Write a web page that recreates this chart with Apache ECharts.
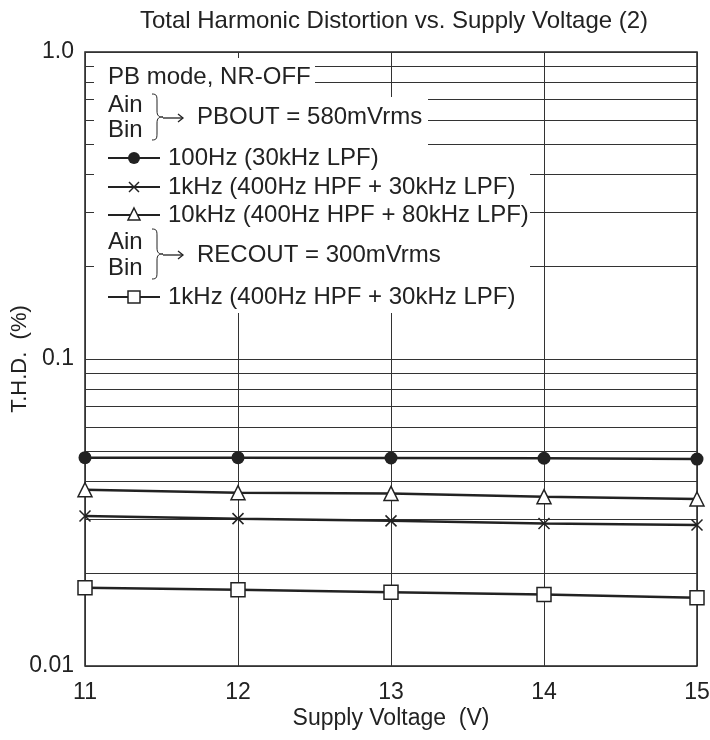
<!DOCTYPE html>
<html>
<head>
<meta charset="utf-8">
<script src="https://cdn.jsdelivr.net/npm/echarts@6/dist/echarts.min.js"></script>
<style>
  html, body { margin: 0; padding: 0; background: #fff; }
  #main { width: 710px; height: 740px; }
</style>
</head>
<body>
<div id="main"></div>
<script>
// 电源电压 (V)
var voltage = [11, 12, 13, 14, 15];
// T.H.D. (%) 读图估计
var thd100Hz = [0.0477, 0.0477, 0.0476, 0.0475, 0.0472];
var thd1kHzPb = [0.0308, 0.0302, 0.0297, 0.0291, 0.0288];
var thd10kHzPb = [0.0375, 0.0367, 0.0365, 0.0356, 0.0350];
var thd1kHzRec = [0.0180, 0.0177, 0.0174, 0.0171, 0.0167];
// 对数轴的次网格线
var minorGrid = [0.02, 0.03, 0.04, 0.05, 0.06, 0.07, 0.08, 0.09,
                 0.2, 0.3, 0.4, 0.5, 0.6, 0.7, 0.8, 0.9];
var yTickLabels = {'1': '1.0', '0.1': '0.1', '0.01': '0.01'};

var FONT = '"Liberation Sans", Arial, Helvetica, sans-serif';
var INK = '#222';

function pairs(ys) {
    return voltage.map(function (v, i) { return [v, ys[i]]; });
}

var crossPath = 'path://M0,0L10,10M10,0L0,10';

var lineSeries = function (name, data, symbol, size, fill) {
    return {
        name: name,
        type: 'line',
        data: pairs(data),
        symbol: symbol,
        symbolSize: size,
        z: 10,
        lineStyle: {color: INK, width: 2.5},
        itemStyle: {color: fill, borderColor: INK, borderWidth: symbol === 'circle' ? 0 : 1.5},
        animation: false
    };
};

// 图例遮罩 (白底挡住网格线)
var masks = [
    [94, 58, 221, 39],
    [94, 97, 334, 63],
    [94, 160, 436, 153]
];

var graphics = [];
masks.forEach(function (m) {
    graphics.push({
        type: 'rect', z: 8,
        shape: {x: m[0], y: m[1], width: m[2], height: m[3]},
        style: {fill: '#fff'}
    });
});

// 大括号
function brace(x, top, bottom) {
    var mid = (top + bottom) / 2;
    var st = {stroke: INK, fill: 'none', lineWidth: 1};
    var b = function (x1, y1, c1x, c1y, c2x, c2y, x2, y2) {
        return {type: 'bezierCurve', z: 20, style: st,
            shape: {x1: x1, y1: y1, cpx1: c1x, cpy1: c1y, cpx2: c2x, cpy2: c2y, x2: x2, y2: y2}};
    };
    var l = function (x1, y1, x2, y2) {
        return {type: 'line', z: 20, style: st, shape: {x1: x1, y1: y1, x2: x2, y2: y2}};
    };
    graphics.push(b(x, top, x + 5, top, x + 5, top + 2, x + 5, top + 8));
    graphics.push(l(x + 5, top + 8, x + 5, mid - 6));
    graphics.push(b(x + 5, mid - 6, x + 5, mid - 1, x + 7, mid, x + 11, mid));
    graphics.push(b(x + 11, mid, x + 7, mid, x + 5, mid + 1, x + 5, mid + 6));
    graphics.push(l(x + 5, mid + 6, x + 5, bottom - 8));
    graphics.push(b(x + 5, bottom - 8, x + 5, bottom - 2, x + 5, bottom, x, bottom));
}

function text(x, y, str) {
    return {
        type: 'text', x: x, y: y, z: 20,
        style: {text: str, fill: INK, font: '24px ' + FONT, verticalAlign: 'middle'}
    };
}

function arrow(x, y) {
    return {
        type: 'line', z: 20,
        shape: {x1: x, y1: y, x2: x + 20, y2: y},
        style: {stroke: INK, lineWidth: 1.3}
    };
}
function arrowHead(x, y) {
    return {
        type: 'polyline', z: 20,
        shape: {points: [[x + 15, y - 4], [x + 20, y], [x + 15, y + 4]]},
        style: {stroke: INK, lineWidth: 1.3, fill: 'none'}
    };
}

function keyLine(y) {
    return {
        type: 'line', z: 20,
        shape: {x1: 108, y1: y, x2: 160, y2: y},
        style: {stroke: INK, lineWidth: 2}
    };
}

graphics.push(text(108, 77, 'PB mode, NR-OFF'));
graphics.push(text(108, 105, 'Ain'));
graphics.push(text(108, 130, 'Bin'));
brace(152, 94, 140);
graphics.push(arrow(163, 118), arrowHead(163, 118));
graphics.push(text(197, 117, 'PBOUT = 580mVrms'));

// ● 100Hz
graphics.push(keyLine(158));
graphics.push({type: 'circle', z: 21, shape: {cx: 134, cy: 158, r: 6}, style: {fill: INK}});
graphics.push(text(168, 158, '100Hz (30kHz LPF)'));

// × 1kHz
graphics.push(keyLine(187));
graphics.push({type: 'line', z: 21, shape: {x1: 129, y1: 182, x2: 139, y2: 192}, style: {stroke: INK, lineWidth: 1.5}});
graphics.push({type: 'line', z: 21, shape: {x1: 139, y1: 182, x2: 129, y2: 192}, style: {stroke: INK, lineWidth: 1.5}});
graphics.push(text(168, 187, '1kHz (400Hz HPF + 30kHz LPF)'));

// △ 10kHz
graphics.push(keyLine(215));
graphics.push({type: 'polygon', z: 21, shape: {points: [[134, 208], [140, 220], [128, 220]]},
    style: {fill: '#fff', stroke: INK, lineWidth: 1.5}});
graphics.push(text(168, 215, '10kHz (400Hz HPF + 80kHz LPF)'));

graphics.push(text(108, 242, 'Ain'));
graphics.push(text(108, 268, 'Bin'));
brace(152, 229, 279);
graphics.push(arrow(163, 255), arrowHead(163, 255));
graphics.push(text(197, 255, 'RECOUT = 300mVrms'));

// □ 1kHz REC
graphics.push(keyLine(297));
graphics.push({type: 'rect', z: 21, shape: {x: 128, y: 291, width: 12, height: 12},
    style: {fill: '#fff', stroke: INK, lineWidth: 1.5}});
graphics.push(text(168, 297, '1kHz (400Hz HPF + 30kHz LPF)'));

var chart = echarts.init(document.getElementById('main'));
chart.setOption({
    backgroundColor: '#fff',
    animation: false,
    textStyle: {fontFamily: FONT},
    title: {
        text: 'Total Harmonic Distortion vs. Supply Voltage (2)',
        left: 389, top: 4, textAlign: 'center',
        textStyle: {fontSize: 24, fontWeight: 'normal', color: INK, fontFamily: FONT}
    },
    grid: {
        left: 85, right: 13, top: 52, bottom: 74,
        outerBoundsMode: 'none', containLabel: false,
        show: true, borderColor: INK, borderWidth: 1.5, backgroundColor: '#fff'
    },
    xAxis: {
        type: 'value', min: 11, max: 15, interval: 1,
        name: 'Supply Voltage  (V)', nameLocation: 'middle', nameGap: 41,
        nameMoveOverlap: false,
        nameTextStyle: {fontSize: 23, color: INK},
        axisLine: {show: false}, axisTick: {show: false},
        axisLabel: {fontSize: 23, color: INK, margin: 15},
        splitLine: {show: true, lineStyle: {color: '#333', width: 1}}
    },
    yAxis: {
        type: 'log', logBase: 10, min: 0.01, max: 1,
        name: 'T.H.D.  (%)', nameLocation: 'middle', nameGap: 54,
        nameMoveOverlap: false,
        nameTextStyle: {fontSize: 22, color: INK},
        axisLine: {show: false}, axisTick: {show: false},
        axisLabel: {
            fontSize: 23, color: INK, margin: 11,
            formatter: function (v) { return yTickLabels[String(+v.toPrecision(3))] || ''; }
        },
        splitLine: {show: true, lineStyle: {color: '#333', width: 1}}
    },
    graphic: graphics,
    series: [
        {
            name: 'grid',
            type: 'line',
            data: pairs(thd100Hz),
            symbol: 'none',
            lineStyle: {width: 0, opacity: 0},
            silent: true,
            z: 1,
            markLine: {
                silent: true,
                symbol: 'none',
                z: 1,
                label: {show: false},
                lineStyle: {color: '#333', width: 1, type: 'solid'},
                data: minorGrid.map(function (v) { return {yAxis: v}; }),
                animation: false
            }
        },
        lineSeries('100Hz (30kHz LPF)', thd100Hz, 'circle', 13, INK),
        lineSeries('1kHz (400Hz HPF + 30kHz LPF)', thd1kHzPb, crossPath, 11, 'none'),
        lineSeries('10kHz (400Hz HPF + 80kHz LPF)', thd10kHzPb, 'triangle', 14, '#fff'),
        lineSeries('1kHz REC (400Hz HPF + 30kHz LPF)', thd1kHzRec, 'rect', 14, '#fff')
    ]
});
window.addEventListener('resize', function () {
    chart.resize();
});
</script>
</body>
</html>
